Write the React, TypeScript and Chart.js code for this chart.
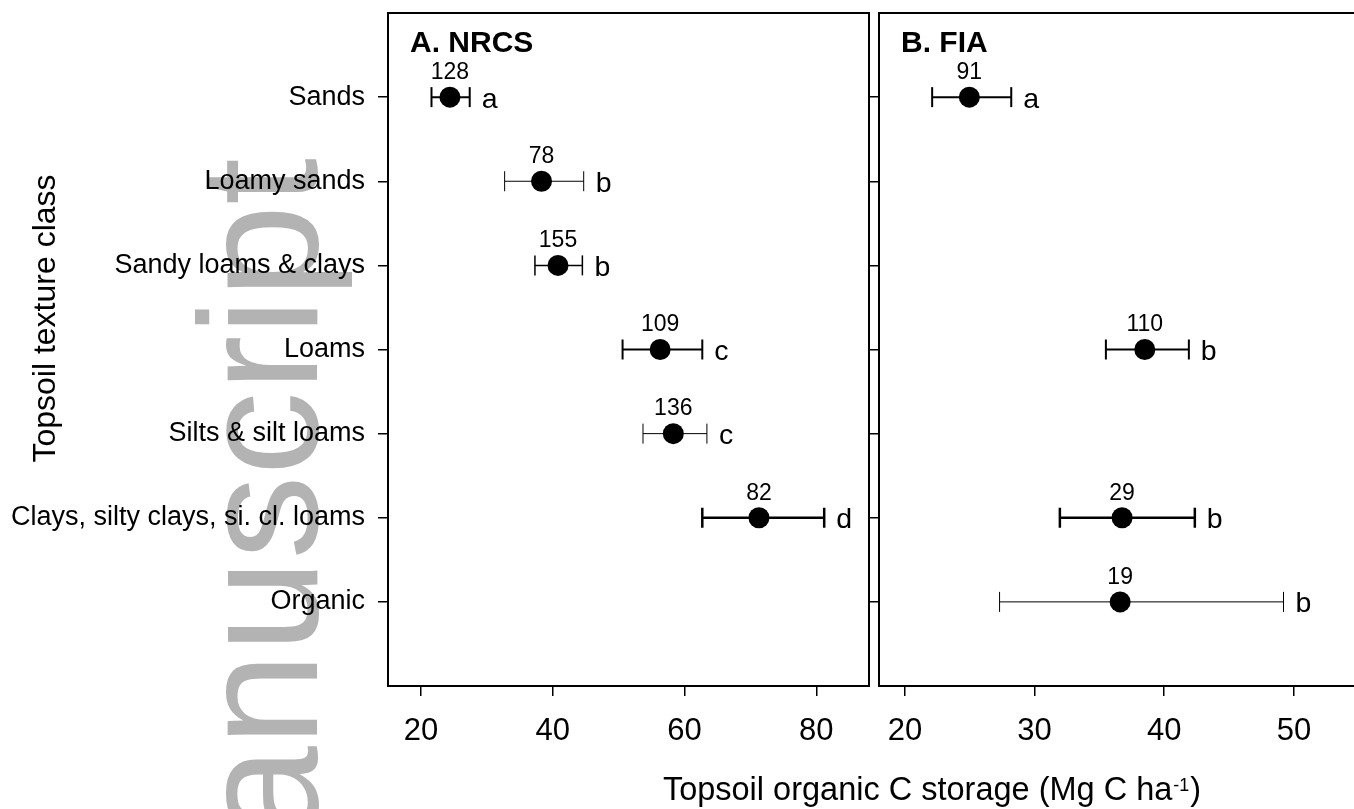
import React, { useEffect, useRef } from "react";
import { Chart, registerables } from "chart.js";

Chart.register(...registerables);

// ---------- data ----------
const categories = [
  "Sands",
  "Loamy sands",
  "Sandy loams & clays",
  "Loams",
  "Silts & silt loams",
  "Clays, silty clays, si. cl. loams",
  "Organic",
];

// Panel A: NRCS
const nrcsMean = [24.4, 38.3, 40.8, 56.3, 58.3, 71.3, null];
const nrcsLow = [21.6, 32.7, 37.3, 50.6, 53.7, 62.7, null];
const nrcsHigh = [27.4, 44.7, 44.5, 62.7, 63.4, 81.2, null];
const nrcsN = [128, 78, 155, 109, 136, 82, null];
const nrcsLetters = ["a", "b", "b", "c", "c", "d", null];
const nrcsBarWidth = [2, 1, 1.5, 2, 1, 2.5, 1];

// Panel B: FIA
const fiaMean = [24.97, null, null, 38.5, null, 36.75, 36.6];
const fiaLow = [22.1, null, null, 35.5, null, 31.95, 27.3];
const fiaHigh = [28.2, null, null, 41.9, null, 42.36, 49.2];
const fiaN = [91, null, null, 110, null, 29, 19];
const fiaLetters = ["a", null, null, "b", null, "b", "b"];
const fiaBarWidth = [2, 1, 1, 2, 1, 2.5, 1];

const xTicksA = [20, 40, 60, 80];
const xTicksB = [20, 30, 40, 50];

const titleA = "A. NRCS";
const titleB = "B. FIA";
const yTitle = "Topsoil texture class";
const xTitleMain = "Topsoil organic C storage (Mg C ha";
const xTitleSup = "-1";
const xTitleEnd = ")";
const watermark = "manuscript";

const FONT = "'Liberation Sans', Arial, Helvetica, sans-serif";

// ---------- helpers ----------
function buildDatasets(mean: any[], lo: any[], hi: any[], widths: number[]) {
  const ds: any[] = [];
  ds.push({
    label: "mean",
    data: mean
      .map((m, i) => (m == null ? null : { x: m, y: i + 1 }))
      .filter((p) => p !== null),
    pointRadius: 10.5,
    pointHoverRadius: 10.5,
    pointStyle: "circle",
    backgroundColor: "#000",
    borderColor: "#000",
    borderWidth: 0,
    showLine: false,
  });
  mean.forEach((m, i) => {
    if (m == null) return;
    ds.push({
      label: "err" + i,
      data: [
        { x: lo[i], y: i + 1 },
        { x: hi[i], y: i + 1 },
      ],
      showLine: true,
      borderColor: "#000",
      borderWidth: widths[i],
      pointStyle: "line",
      pointRotation: 90,
      pointRadius: 10,
      pointHoverRadius: 10,
      pointBorderWidth: widths[i],
      pointBorderColor: "#000",
      pointBackgroundColor: "#000",
      tension: 0,
      fill: false,
    });
  });
  return ds;
}

function annotPlugin(id: string, mean: any[], hi: any[], nLab: any[], letters: any[], title: string) {
  return {
    id,
    afterDatasetsDraw(chart: any) {
      const { ctx, chartArea: a, scales } = chart;
      const xs = scales.x;
      const ys = scales.y;
      ctx.save();
      ctx.strokeStyle = "#000";
      ctx.lineWidth = 2;
      ctx.strokeRect(a.left, a.top, a.right - a.left, a.bottom - a.top);
      ctx.fillStyle = "#000";
      ctx.font = `bold 30px ${FONT}`;
      ctx.textAlign = "left";
      ctx.textBaseline = "alphabetic";
      ctx.fillText(title, a.left + 22, a.top + 39);
      mean.forEach((m, i) => {
        if (m == null) return;
        const x = xs.getPixelForValue(m);
        const y = ys.getPixelForValue(i + 1);
        ctx.font = `23px ${FONT}`;
        ctx.textAlign = "center";
        ctx.textBaseline = "middle";
        ctx.fillText(String(nLab[i]), x, y - 24.5);
        ctx.font = `28.5px ${FONT}`;
        ctx.textAlign = "left";
        ctx.textBaseline = "alphabetic";
        ctx.fillText(letters[i], xs.getPixelForValue(hi[i]) + 12, y + 10.5);
      });
      ctx.restore();
    },
  };
}

const extrasPlugin = {
  id: "extras",
  beforeDraw(chart: any) {
    const { ctx } = chart;
    ctx.save();
    ctx.fillStyle = "#b3b3b3";
    ctx.font = `168px ${FONT}`;
    ctx.translate(317, 158);
    ctx.rotate(-Math.PI / 2);
    ctx.textAlign = "right";
    ctx.textBaseline = "alphabetic";
    ctx.fillText(watermark, 0, 0);
    ctx.restore();
  },
  afterDraw(chart: any) {
    const { ctx } = chart;
    ctx.save();
    ctx.fillStyle = "#000";
    // y title
    ctx.font = `32px ${FONT}`;
    ctx.translate(46, 318.5);
    ctx.rotate(-Math.PI / 2);
    ctx.textAlign = "center";
    ctx.textBaseline = "middle";
    ctx.fillText(yTitle, 0, 0);
    ctx.restore();

    ctx.save();
    ctx.fillStyle = "#000";
    ctx.textAlign = "left";
    ctx.textBaseline = "alphabetic";
    ctx.font = `32.5px ${FONT}`;
    const w1 = ctx.measureText(xTitleMain).width;
    const w3 = ctx.measureText(xTitleEnd).width;
    ctx.font = `18px ${FONT}`;
    const w2 = ctx.measureText(xTitleSup).width;
    const start = 931 - (w1 + w2 + w3) / 2;
    ctx.font = `32.5px ${FONT}`;
    ctx.fillText(xTitleMain, start, 800);
    ctx.font = `18px ${FONT}`;
    ctx.fillText(xTitleSup, start + w1 + 1, 791);
    ctx.font = `32.5px ${FONT}`;
    ctx.fillText(xTitleEnd, start + w1 + w2 + 2, 800);
    ctx.restore();
  },
};

function gridOpts() {
  return {
    display: true,
    drawOnChartArea: false,
    drawTicks: true,
    tickLength: 10,
    color: "#000",
    lineWidth: 1.5,
  };
}

function zeroPad(s: any) {
  s.paddingTop = 0;
  s.paddingBottom = 0;
  s.paddingLeft = 0;
  s.paddingRight = 0;
}

function makeOptions(xMin: number, xMax: number, xTicks: number[], showY: boolean, yWidth: number, padding: any) {
  return {
    responsive: false,
    animation: false,
    devicePixelRatio: 1,
    events: [],
    layout: { padding, autoPadding: false },
    plugins: { legend: { display: false }, tooltip: { enabled: false } },
    scales: {
      x: {
        type: "linear",
        min: xMin,
        max: xMax,
        afterBuildTicks: (s: any) => {
          s.ticks = xTicks.map((v) => ({ value: v }));
        },
        afterFit: (s: any) => {
          s.height = 123;
          zeroPad(s);
        },
        grid: gridOpts(),
        border: { display: false },
        ticks: {
          autoSkip: false,
          maxRotation: 0,
          color: "#000",
          padding: 17,
          font: { size: 31, family: FONT },
        },
      },
      y: {
        type: "linear",
        reverse: true,
        min: 0,
        max: 8,
        afterBuildTicks: (s: any) => {
          s.ticks = categories.map((_, i) => ({ value: i + 1 }));
        },
        afterFit: (s: any) => {
          s.width = yWidth;
          zeroPad(s);
        },
        grid: gridOpts(),
        border: { display: false },
        ticks: {
          display: showY,
          autoSkip: false,
          color: "#000",
          padding: 13,
          font: { size: 27, family: FONT },
          callback: (v: any) => categories[Math.round(v) - 1],
        },
      },
    },
  };
}

export default function App() {
  const leftRef = useRef<HTMLCanvasElement>(null);
  const rightRef = useRef<HTMLCanvasElement>(null);

  useEffect(() => {
    Chart.defaults.font.family = FONT;
    const left = new Chart(leftRef.current as HTMLCanvasElement, {
      type: "scatter",
      data: { datasets: buildDatasets(nrcsMean, nrcsLow, nrcsHigh, nrcsBarWidth) },
      options: makeOptions(15, 88, xTicksA, true, 388, { top: 13, right: 485, bottom: 0, left: 0 }) as any,
      plugins: [extrasPlugin, annotPlugin("annA", nrcsMean, nrcsHigh, nrcsN, nrcsLetters, titleA)],
    });
    const right = new Chart(rightRef.current as HTMLCanvasElement, {
      type: "scatter",
      data: { datasets: buildDatasets(fiaMean, fiaLow, fiaHigh, fiaBarWidth) },
      options: makeOptions(18, 55.1, xTicksB, false, 10, { top: 13, right: 0, bottom: 0, left: 0 }) as any,
      plugins: [annotPlugin("annB", fiaMean, fiaHigh, fiaN, fiaLetters, titleB)],
    });
    return () => {
      left.destroy();
      right.destroy();
    };
  }, []);

  return (
    <div
      style={{
        position: "absolute",
        left: 0,
        top: 0,
        width: 1354,
        height: 809,
        overflow: "hidden",
        background: "#fff",
      }}
    >
      <canvas ref={leftRef} width={1354} height={809} style={{ position: "absolute", left: 0, top: 0 }} />
      <canvas ref={rightRef} width={491} height={809} style={{ position: "absolute", left: 869, top: 0 }} />
    </div>
  );
}
